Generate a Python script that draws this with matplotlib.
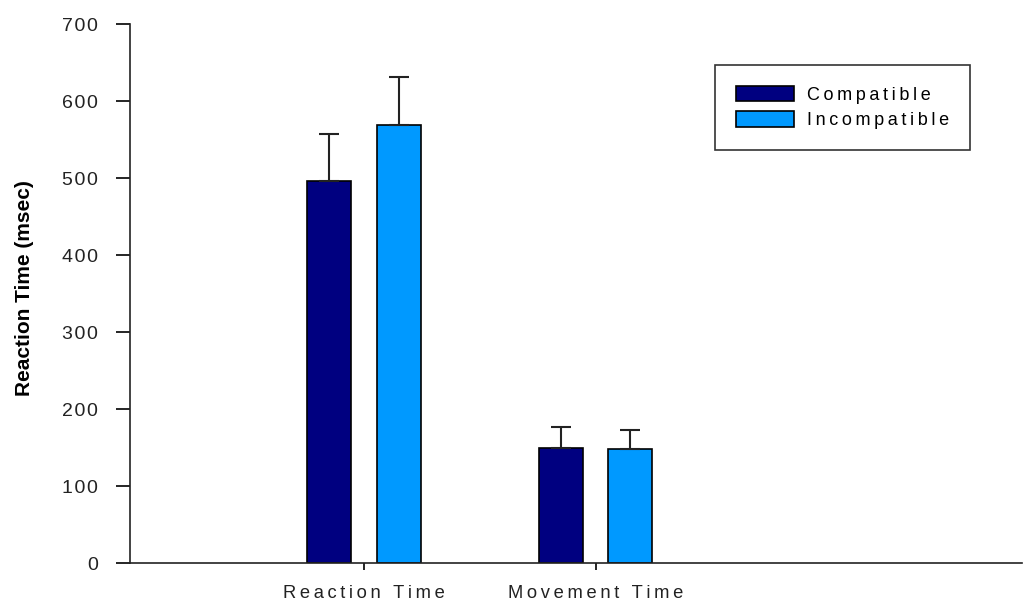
import numpy as np
import matplotlib
matplotlib.use("Agg")
import matplotlib.pyplot as plt

# werte
categories = ["Reaction Time", "Movement Time"]
compatible = [496, 149]
compatible_err = [62, 28]
incompatible = [569, 148]
incompatible_err = [62, 25]
yticks = [0, 100, 200, 300, 400, 500, 600, 700]

plt.rcParams['font.family'] = ['Liberation Sans', 'DejaVu Sans']


def spaced(text, sep="\u2009"):
    # breite buchstabenabstaende wie im original
    return sep.join(text)


fig = plt.figure(figsize=(10.27, 6.05), dpi=100)
ax = fig.add_axes([0.1266, 0.0694, 0.8684, 0.8906])

x = np.array([1.0, 2.0])
w = 0.19
off = 0.15
err_kw = dict(ecolor="#222222", elinewidth=1.5, capsize=7, capthick=1.5)
ax.bar(x - off, compatible, w, yerr=[np.zeros(2), compatible_err], color="#000080",
       edgecolor="black", linewidth=1.2, error_kw=err_kw, label=spaced("Compatible"))
ax.bar(x + off, incompatible, w, yerr=[np.zeros(2), incompatible_err], color="#0099FF",
       edgecolor="black", linewidth=1.2, error_kw=err_kw, label=spaced("Incompatible"))

ax.set_xlim(-0.01, 3.84)
ax.set_ylim(0, 700)
ax.set_yticks(yticks)
ax.set_yticklabels([spaced(str(t), "\u200a") for t in yticks])
ax.set_xticks(x)
ax.set_xticklabels([spaced(c) for c in categories], fontsize=13.2, color="#222222")
ax.tick_params(axis="y", length=10, width=1.2, labelsize=14, labelcolor="#222222", pad=13)
ax.tick_params(axis="x", length=5, width=1.2, pad=11)
ax.set_ylabel("Reaction Time (msec)", fontsize=15, fontweight="bold")
ax.yaxis.set_label_coords(-0.108, 0.51)

for s in ["top", "right"]:
    ax.spines[s].set_visible(False)
for s in ["left", "bottom"]:
    ax.spines[s].set_linewidth(1.2)
    ax.spines[s].set_color("#222222")

leg = ax.legend(loc="upper left", bbox_to_anchor=(0.656, 0.924), fontsize=13, frameon=True,
                fancybox=False, edgecolor="black", handlelength=3.2, handleheight=0.95,
                borderpad=1.15, labelspacing=0.42, handletextpad=0.75, borderaxespad=0)
leg.get_frame().set_linewidth(1.2)

fig.savefig("out.png", dpi=100)
